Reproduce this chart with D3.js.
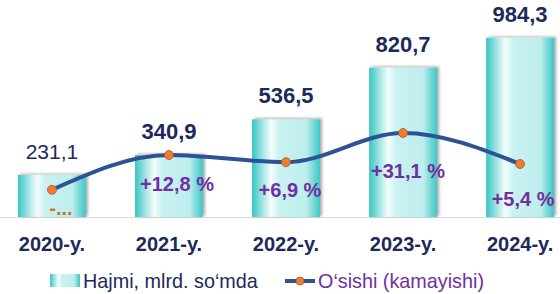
<!DOCTYPE html>
<html>
<head>
<meta charset="utf-8">
<script src="https://cdn.jsdelivr.net/npm/d3@7"></script>
<style>
  body { margin: 0; background: #fff; }
  svg { font-family: "Liberation Sans", Arial, sans-serif; display: block; }
</style>
</head>
<body>
<div id="chart"></div>
<script>
var years = ["2020-y.", "2021-y.", "2022-y.", "2023-y.", "2024-y."];
var volumes = [231.1, 340.9, 536.5, 820.7, 984.3];
var volumeLabels = ["231,1", "340,9", "536,5", "820,7", "984,3"];
var growth = [-16.0, 12.8, 6.9, 31.1, 5.4];
var growthLabels = ["-...", "+12,8 %", "+6,9 %", "+31,1 %", "+5,4 %"];
var legendNames = ["Hajmi, mlrd. so\u2018mda", "O\u2018sishi (kamayishi)"];

var width = 560, height = 294;
var baseY = 217;
var navy = "#1b2a5a", purple = "#7030a0", lineBlue = "#2e5395", orange = "#ed7d31";

var svg = d3.select("#chart").append("svg")
    .attr("width", width)
    .attr("height", height);

var defs = svg.append("defs");
var grad = defs.append("linearGradient")
    .attr("id", "barGrad")
    .attr("x1", "0%").attr("x2", "100%").attr("y1", "0%").attr("y2", "0%");
[[0, "#35c6c4"], [0.1, "#7ddad8"], [0.28, "#f4fdfd"], [0.4, "#c9f2f1"],
 [0.8, "#bdeeed"], [0.92, "#6fd6d4"], [1, "#3ac8c6"]].forEach(function(s) {
    grad.append("stop").attr("offset", s[0]).attr("stop-color", s[1]);
});
var shadow = defs.append("filter").attr("id", "shadow")
    .attr("x", "-20%").attr("y", "-20%").attr("width", "140%").attr("height", "140%");
shadow.append("feDropShadow")
    .attr("dx", 2).attr("dy", -1).attr("stdDeviation", 1.5)
    .attr("flood-color", "#000").attr("flood-opacity", 0.35);

var x = d3.scaleBand()
    .domain(years)
    .range([18, 554])
    .paddingInner(0.42)
    .paddingOuter(0);

var y = d3.scaleLinear()
    .domain([0, 1000])
    .range([baseY, 35]);

var yG = d3.scaleLinear()
    .domain([0, 30])
    .range([170.5, 134.3]);

function cx(i) { return x(years[i]) + x.bandwidth() / 2; }

// baseline
svg.append("line")
    .attr("x1", 0).attr("x2", width)
    .attr("y1", baseY + 0.5).attr("y2", baseY + 0.5)
    .attr("stroke", "#d9d9d9").attr("stroke-width", 1);

// bars
svg.selectAll(".bar")
    .data(volumes)
    .enter()
    .append("rect")
    .attr("class", "bar")
    .attr("x", function(d, i) { return x(years[i]); })
    .attr("y", function(d) { return y(d); })
    .attr("width", x.bandwidth())
    .attr("height", function(d) { return baseY - y(d); })
    .attr("fill", "url(#barGrad)")
    .attr("filter", "url(#shadow)");

// value labels
svg.selectAll(".vlabel")
    .data(volumes)
    .enter()
    .append("text")
    .attr("class", "vlabel")
    .attr("x", function(d, i) { return cx(i); })
    .attr("y", function(d) { return y(d) - 16; })
    .attr("text-anchor", "middle")
    .attr("font-size", function(d, i) { return i === 0 ? 21 : 22; })
    .attr("font-weight", function(d, i) { return i === 0 ? "normal" : "bold"; })
    .attr("fill", navy)
    .text(function(d, i) { return volumeLabels[i]; });

// growth line
var line = d3.line()
    .x(function(d, i) { return cx(i); })
    .y(function(d) { return yG(d); })
    .curve(d3.curveMonotoneX);

svg.append("path")
    .datum(growth)
    .attr("fill", "none")
    .attr("stroke", lineBlue)
    .attr("stroke-width", 4)
    .attr("d", line);

svg.selectAll(".dot")
    .data(growth)
    .enter()
    .append("circle")
    .attr("class", "dot")
    .attr("r", 4.5)
    .attr("cx", function(d, i) { return cx(i); })
    .attr("cy", function(d) { return yG(d); })
    .attr("fill", orange)
    .attr("stroke", "#a85a26")
    .attr("stroke-width", 0.8);

// growth labels
var labelDy = [25, 36, 35, 45, 42];
var labelDx = [9, 8, 4, 5, 3];
svg.selectAll(".glabel")
    .data(growth)
    .enter()
    .append("text")
    .attr("class", "glabel")
    .attr("x", function(d, i) { return cx(i) + labelDx[i]; })
    .attr("y", function(d, i) { return yG(d) + labelDy[i]; })
    .attr("text-anchor", "middle")
    .attr("font-size", 20)
    .attr("font-weight", "bold")
    .attr("fill", function(d) { return d < 0 ? "#d2702e" : purple; })
    .text(function(d, i) { return growthLabels[i]; });

// x axis
var xAxis = d3.axisBottom(x).tickSize(0).tickPadding(0);
var gx = svg.append("g")
    .attr("transform", "translate(0," + (baseY + 20) + ")")
    .call(xAxis);
gx.select(".domain").remove();
gx.selectAll("text")
    .attr("dy", "0.71em")
    .attr("font-family", "Liberation Sans, Arial, sans-serif")
    .attr("font-size", 20)
    .attr("font-weight", "bold")
    .attr("fill", navy);

// legend
var lg = svg.append("g");
lg.append("rect")
    .attr("x", 50).attr("y", 274).attr("width", 30).attr("height", 13)
    .attr("fill", "url(#barGrad)");
lg.append("text")
    .attr("x", 83).attr("y", 288)
    .attr("font-size", 19.8)
    .attr("fill", navy)
    .text(legendNames[0]);
lg.append("line")
    .attr("x1", 285).attr("x2", 315).attr("y1", 281).attr("y2", 281)
    .attr("stroke", lineBlue).attr("stroke-width", 4);
lg.append("circle")
    .attr("cx", 300).attr("cy", 281).attr("r", 4)
    .attr("fill", orange).attr("stroke", "#a85a26").attr("stroke-width", 0.8);
lg.append("text")
    .attr("x", 318).attr("y", 288)
    .attr("font-size", 19.8)
    .attr("fill", purple)
    .text(legendNames[1]);
</script>
</body>
</html>
